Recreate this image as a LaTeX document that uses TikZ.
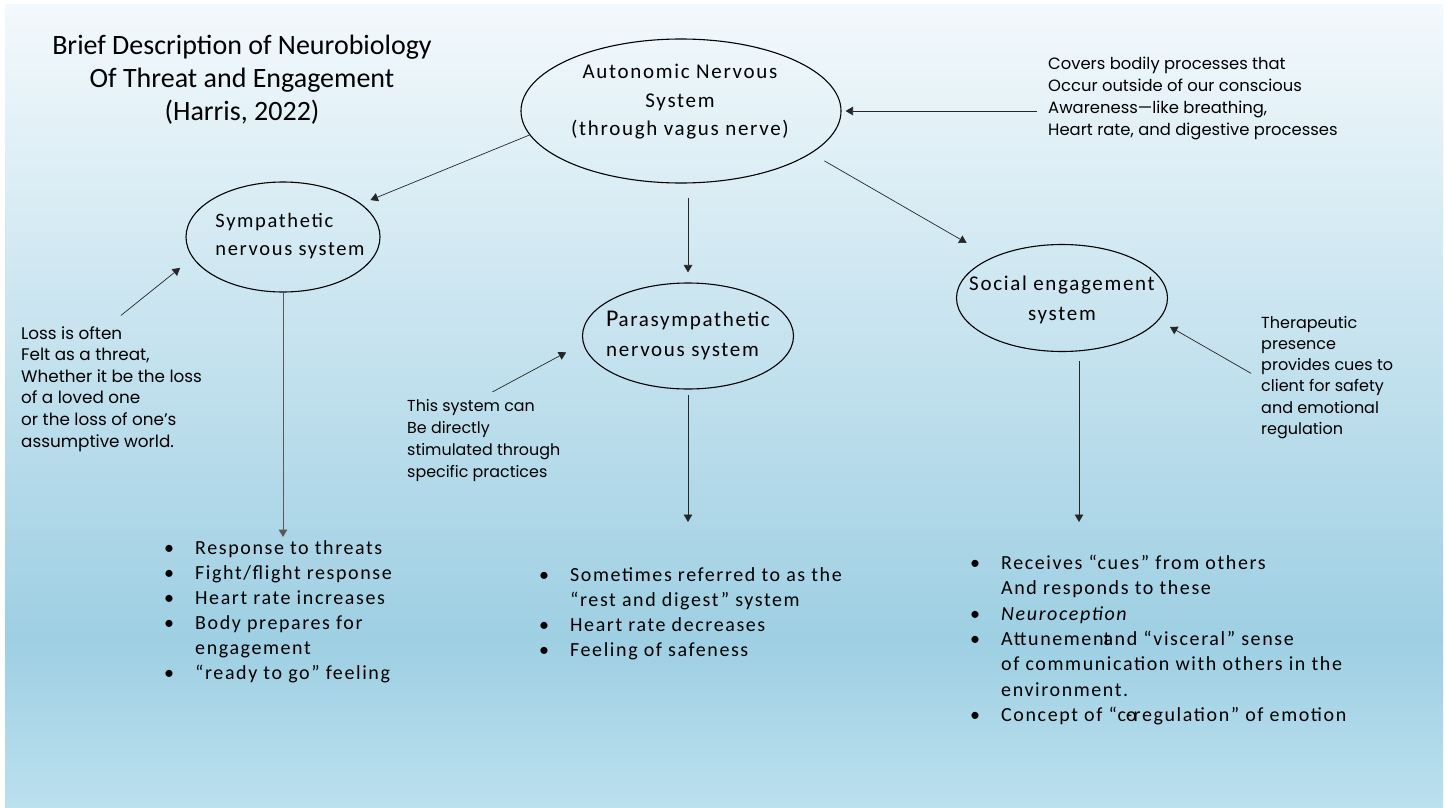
\documentclass[tikz,border=0pt]{standalone}
\usepackage{fontspec}
\setmainfont{Carlito}
\newfontfamily\notefont{Poppins}
\newfontfamily\spacedfont[LetterSpace=8]{Carlito}
\usetikzlibrary{shapes.geometric,arrows.meta,calc}
\newcommand{\itemmark}{\makebox[31pt][l]{•}}
\newcommand{\itemgap}{\hspace*{31pt}}
\begin{document}
\begin{tikzpicture}[x=1pt,y=-1pt,
  bubble/.style={ellipse, draw=black, line width=1.1pt, inner sep=0pt},
  bubbletext/.style={align=center, inner sep=0pt, font=\spacedfont\fontsize{21}{28.5}\selectfont},
  arr/.style={-{Triangle[length=7.5pt,width=8.5pt]}, line width=0.7pt, draw=black!85},
  note/.style={align=left, inner sep=3pt, anchor=base west},
  listtext/.style={align=left, inner sep=0pt, anchor=base west,
    font=\spacedfont\fontsize{20}{25}\selectfont}]
  % canvas and background wash
  \useasboundingbox (0,0) rectangle (1445,808);
  \fill[white] (0,0) rectangle (1445,808);
  \shade[top color={rgb,255:red,243;green,249;blue,252}, bottom color={rgb,255:red,158;green,207;blue,227}]
    (5,5) rectangle (1443,640);
  \shade[top color={rgb,255:red,158;green,207;blue,227}, bottom color={rgb,255:red,187;green,224;blue,238}]
    (5,639.5) rectangle (1443,807);

  % title
  \node[align=center, inner sep=0pt, font=\fontsize{28}{33}\selectfont] (title) at (242,80)
    {Brief Description of Neurobiology\\Of Threat and Engagement\\(Harris, 2022)};

  % system bubbles
  \node[bubble, minimum width=320pt, minimum height=144pt] (ans) at (681,111) {};
  \node[bubbletext] (anstext) at (680,102) {Autonomic Nervous\\System\\(through vagus nerve)};

  \node[bubble, minimum width=194pt, minimum height=110pt] (sym) at (283,237) {};
  \node[bubbletext, align=left, font=\spacedfont\fontsize{20.5}{28}\selectfont] (symtext) at (290,236)
    {Sympathetic\\nervous system};

  \node[bubble, minimum width=211pt, minimum height=106pt] (para) at (688,336) {};
  \node[bubbletext, align=left, font=\spacedfont\fontsize{21}{30}\selectfont] (paratext) at (688,335)
    {{\fontsize{24}{30}\selectfont P}arasympathetic\\nervous system};

  \node[bubble, minimum width=211pt, minimum height=107pt] (soc) at (1062,298) {};
  \node[bubbletext, font=\spacedfont\fontsize{21}{30}\selectfont] (soctext) at (1062,300)
    {Social engagement\\system};

  % side notes (each placed by the baseline of its last line)
  \node[note, font=\notefont\fontsize{16.4}{21.7}\selectfont] (topnote) at (1045,135)
    {Covers bodily processes that\\Occur outside of our conscious\\Awareness—like breathing,\\Heart rate, and digestive processes};
  \node[note, font=\notefont\fontsize{16.8}{21.6}\selectfont] (lossnote) at (18,447)
    {Loss is often\\Felt as a threat,\\Whether it be the loss\\of a loved one\\or the loss of one’s\\assumptive world.};
  \node[note, font=\notefont\fontsize{15.9}{21.7}\selectfont] (thisnote) at (404,477)
    {This system can\\Be directly\\stimulated through\\specific practices};
  \node[note, font=\notefont\fontsize{16}{21.3}\selectfont] (thernote) at (1258,434.5)
    {Therapeutic\\presence\\provides cues to\\client for safety\\and emotional\\regulation};

  % bullet lists (each placed by the baseline of its last line)
  \node[listtext] (symlist) at (164,679.5)
    {\itemmark Response to threats\\
     \itemmark Fight/flight response\\
     \itemmark Heart rate increases\\
     \itemmark Body prepares for\\
     \itemgap engagement\\
     \itemmark “ready to go” feeling};
  \node[listtext] (paralist) at (539,656.5)
    {\itemmark Sometimes referred to as the\\
     \itemgap “rest and digest” system\\
     \itemmark Heart rate decreases\\
     \itemmark Feeling of safeness};
  \node[listtext, font=\spacedfont\fontsize{20}{25.3}\selectfont] (soclist) at (970,721.3)
    {\itemmark Receives “cues” from others\\
     \itemgap And responds to these\\
     \itemmark \textit{Neuroception}\\
     \itemmark Attunemen\rlap{t}and “visceral” sense\\
     \itemgap of communication with others in the\\
     \itemgap environment.\\
     \itemmark Concept of “c\rlap{o}-regulation” of emotion};

  % free ends of the downward connectors
  \coordinate (symend) at (283,537);
  \coordinate (paraend) at (688,522);
  \coordinate (socend) at (1079,522);

  % connectors
  \draw[arr, shorten >=10pt] (ans.189) -- (sym.23);
  \draw[arr, shorten <=14pt, shorten >=10pt] (ans.south -| para.north) -- (para.north);
  \draw[arr, shorten <=15pt, shorten >=29pt] (ans.342) -- (soc.150);
  \draw[arr, shorten <=8pt, shorten >=4pt] (ans.east -| topnote.west) -- (ans.east);
  \draw[arr, shorten <=12pt, shorten >=16pt] (lossnote.north) -- (sym.193);
  \draw[arr, shorten <=10pt, shorten >=19pt] (thisnote.north) -- (para.184);
  \draw[arr, shorten <=8pt, shorten >=13pt] (thernote.west) -- (soc.347);
  \draw[arr, draw=black!65, line width=1pt] (sym.south) -- (symend);
  \draw[arr, shorten <=5pt] (para.south) -- (paraend);
  \draw[arr, shorten <=9pt] (soc.south -| socend) -- (socend);
\end{tikzpicture}
\end{document}
